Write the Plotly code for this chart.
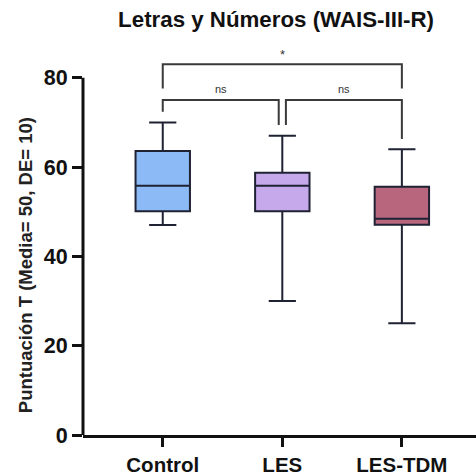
import plotly.graph_objects as go

categories = ["Control", "LES", "LES-TDM"]
lower_whisker = [47, 30, 25]
q1_vals = [50.1, 50.1, 47.1]
median_vals = [55.8, 55.8, 48.4]
q3_vals = [63.6, 58.7, 55.6]
upper_whisker = [70, 67, 64]
fill_colors = ["#8CBAF6", "#C5A9EA", "#B8667E"]

y_ticks = [0, 20, 40, 60, 80]
y_range = [0, 88]

# significance brackets: (left cat idx, right cat idx, y bar, left end y, right end y, label, label y)
brackets = [
    (0, 2, 83.0, 77.6, 77.6, "*", 85.3),
    (0, 0.97, 75.0, 72.4, 69.4, "ns", 77.4),
    (1.03, 2, 75.0, 69.4, 66.3, "ns", 77.4),
]

FONT = "Liberation Sans, Arial, sans-serif"
fig = go.Figure()
for i, c in enumerate(categories):
    fig.add_trace(go.Box(
        x=[c], q1=[q1_vals[i]], median=[median_vals[i]], q3=[q3_vals[i]],
        lowerfence=[lower_whisker[i]], upperfence=[upper_whisker[i]],
        fillcolor=fill_colors[i], line=dict(color="#1e2233", width=2),
        whiskerwidth=0.5, showlegend=False, boxpoints=False, hoverinfo="skip",
    ))

shapes = []
annotations = []
for (l, r, yb, yl, yr, lab, ly) in brackets:
    shapes.append(dict(type="path", xref="x", yref="y",
                       path=f"M {l},{yl} L {l},{yb} L {r},{yb} L {r},{yr}",
                       line=dict(color="#3a3a3a", width=2)))
    annotations.append(dict(x=(l + r) / 2, y=ly, xref="x", yref="y", text=lab,
                            showarrow=False, font=dict(family=FONT, size=11 if lab == "ns" else 13, color="#333")))

# y axis line only up to 80
shapes.append(dict(type="line", xref="paper", yref="y", x0=0, x1=0, y0=0, y1=80,
                   line=dict(color="#111", width=3)))

annotations.append(dict(x=-0.148, y=38, xref="paper", yref="y", text="Puntuación T (Media= 50, DE= 10)",
                        textangle=-90, showarrow=False, xanchor="center", yanchor="middle",
                        font=dict(family=FONT, size=18.5, color="#222", weight="bold")))

fig.update_layout(
    width=476, height=476,
    margin=dict(l=83, r=0, t=42, b=38),
    paper_bgcolor="white", plot_bgcolor="white",
    boxmode="overlay", boxgap=0.35,
    title=dict(text="Letras y Números (WAIS-III-R)", x=0.58, xanchor="center", y=1 - 19 / 476,
               yanchor="middle", yref="container",
               font=dict(family=FONT, size=22.3, color="#111", weight="bold")),
    xaxis=dict(range=[-0.667, 2.62], showline=True, linecolor="#111", linewidth=3,
               ticks="outside", ticklen=9, tickwidth=3, tickcolor="#111",
               tickfont=dict(family=FONT, size=20.5, color="#111", weight="bold"),
               showgrid=False, zeroline=False, fixedrange=True),
    yaxis=dict(range=y_range, tickvals=y_ticks, showline=False,
               ticks="outside", ticklen=10, tickwidth=3, tickcolor="#111",
               tickfont=dict(family=FONT, size=21.5, color="#111", weight="bold"),
               showgrid=False, zeroline=False),
    shapes=shapes, annotations=annotations,
)
fig.write_html("out.html")
